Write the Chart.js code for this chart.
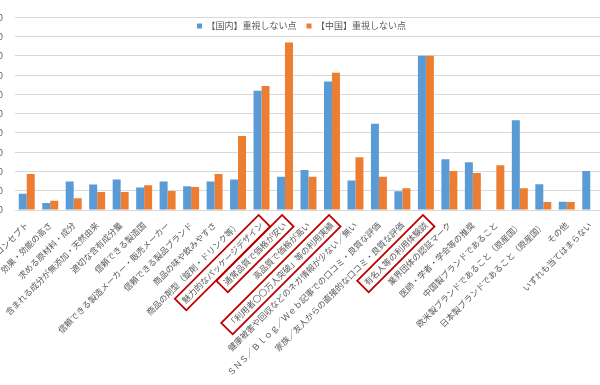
<!DOCTYPE html>
<html><head><meta charset="utf-8">
<script src="https://cdn.jsdelivr.net/npm/chart.js@4/dist/chart.umd.min.js"></script>
<style>
html,body{margin:0;padding:0;background:#fff;overflow:hidden;width:600px;height:385px;}
#wrap{position:absolute;left:-15px;top:0;width:620px;height:385px;}
</style></head><body>
<div id="wrap"><canvas id="c" width="620" height="385"></canvas></div>
<script>
const categories = [
  "商品コンセプト","効果・効能の高さ","求める原材料・成分","含まれる成分が無添加・天然由来","適切な含有成分量",
  "信頼できる製造国","信頼できる製造メーカー・販売メーカー","信頼できる製品ブランド","商品の味や飲みやすさ","商品の剤型（錠剤・ドリンク等）",
  "魅力的なパッケージデザイン","通常品質で価格が安い","高品質で価格が高い","「利用者〇〇万人突破」等の利用実績","健康被害や回収などのネガ情報が少ない／無い",
  "ＳＮＳ／Ｂｌｏｇ／Ｗｅｂ記事での口コミ・良質な評価","家族／友人からの直接的な口コミ・良質な評価","有名人等の利用体験談","業界団体の認証マーク","医師・学者・学会等の推奨",
  "中国製ブランドであること","欧米製ブランドであること（原産国）","日本製ブランドであること（原産国）","その他","いずれも当てはまらない"
];
const domestic = [8.5,3.6,14.8,13.3,15.8,11.7,14.8,12.3,14.8,15.8,61.9,17.2,20.8,66.7,15.3,44.8,9.7,80.1,26.4,24.8,0,46.6,13.4,4.3,20.2];
const china    = [18.7,4.8,6.1,9.4,9.4,12.8,9.9,12.0,18.7,38.4,64.4,87.0,17.2,71.3,27.4,17.2,11.3,80.1,20.2,19.2,23.2,11.3,4.1,4.1,0];
const seriesNames = ["【国内】重視しない点","【中国】重視しない点"];
const yTicks = [0,10,20,30,40,50,60,70,80,90,100];
const highlighted = [10,11,13,17];

const FONT = "'Noto Sans CJK JP', sans-serif";
const TICK_FS = 8.5;
const X_PAD = 10;

const boxPlugin = {
  id: 'labelBoxes',
  afterDraw(chart) {
    const xs = chart.scales.x, ctx = chart.ctx;
    const lh = TICK_FS * 1.2, s = Math.sin(Math.PI/4);
    ctx.save();
    ctx.font = TICK_FS + "px " + FONT;
    ctx.strokeStyle = '#c00000';
    ctx.lineWidth = 1.8;
    highlighted.forEach(i => {
      const w = ctx.measureText(categories[i]).width;
      const px = xs.getPixelForTick(i) - lh/2*s;
      const py = xs.top + X_PAD;
      ctx.save();
      ctx.translate(px, py);
      ctx.rotate(-Math.PI/4);
      ctx.strokeRect(-w-4, -3, w+8, lh+6);
      ctx.restore();
    });
    ctx.restore();
  }
};

// legend overlays the plot like the original: it takes no layout height
const legendOverlay = {
  id: 'legendOverlay',
  afterInit(chart) {
    const lg = chart.legend;
    if (!lg) return;
    const fit = lg.fit.bind(lg);
    lg.fit = function () { fit(); this._realH = this.height; this.height = 0; };
  },
  afterLayout(chart) {
    const lg = chart.legend;
    if (lg) {
      lg.left += 8; lg.right += 8;
      lg.top -= 6;
      lg.height = lg._realH || 30;
      lg.bottom = lg.top + lg.height;
    }
  }
};

new Chart(document.getElementById('c'), {
  type: 'bar',
  data: {
    labels: categories,
    datasets: [
      { label: seriesNames[0], data: domestic, backgroundColor: '#5B9BD5', borderWidth: 0 },
      { label: seriesNames[1], data: china, backgroundColor: '#ED7D31', borderWidth: 0 }
    ]
  },
  options: {
    responsive: false,
    animation: false,
    devicePixelRatio: 1,
    layout: { padding: { top: 7, left: 0, right: 3, bottom: 0 } },
    datasets: { bar: { barPercentage: 1.0, categoryPercentage: 0.68 } },
    plugins: {
      legend: {
        position: 'top',
        align: 'center',
        labels: { boxWidth: 5, boxHeight: 5, padding: 10, color: '#595959', font: { family: FONT, size: 9 } }
      },
      tooltip: { enabled: false }
    },
    scales: {
      x: {
        grid: { display: false, drawTicks: false },
        border: { display: true, color: '#D9D9D9' },
        ticks: { autoSkip: false, maxRotation: 45, minRotation: 45, padding: X_PAD, color: '#595959', font: { family: FONT, size: TICK_FS } },
        afterFit(scale) { scale.height = 175; scale.paddingLeft = 0; scale.paddingRight = 0; }
      },
      y: {
        min: 0, max: 100,
        grid: { color: '#D9D9D9', drawTicks: false },
        border: { display: false },
        ticks: { padding: 12, color: '#595959', font: { family: FONT, size: 9 } },
        afterBuildTicks(scale) { scale.ticks = yTicks.map(v => ({ value: v })); },
        afterFit(scale) { scale.width = 30; }
      }
    }
  },
  plugins: [boxPlugin, legendOverlay]
});
</script>
</body></html>
